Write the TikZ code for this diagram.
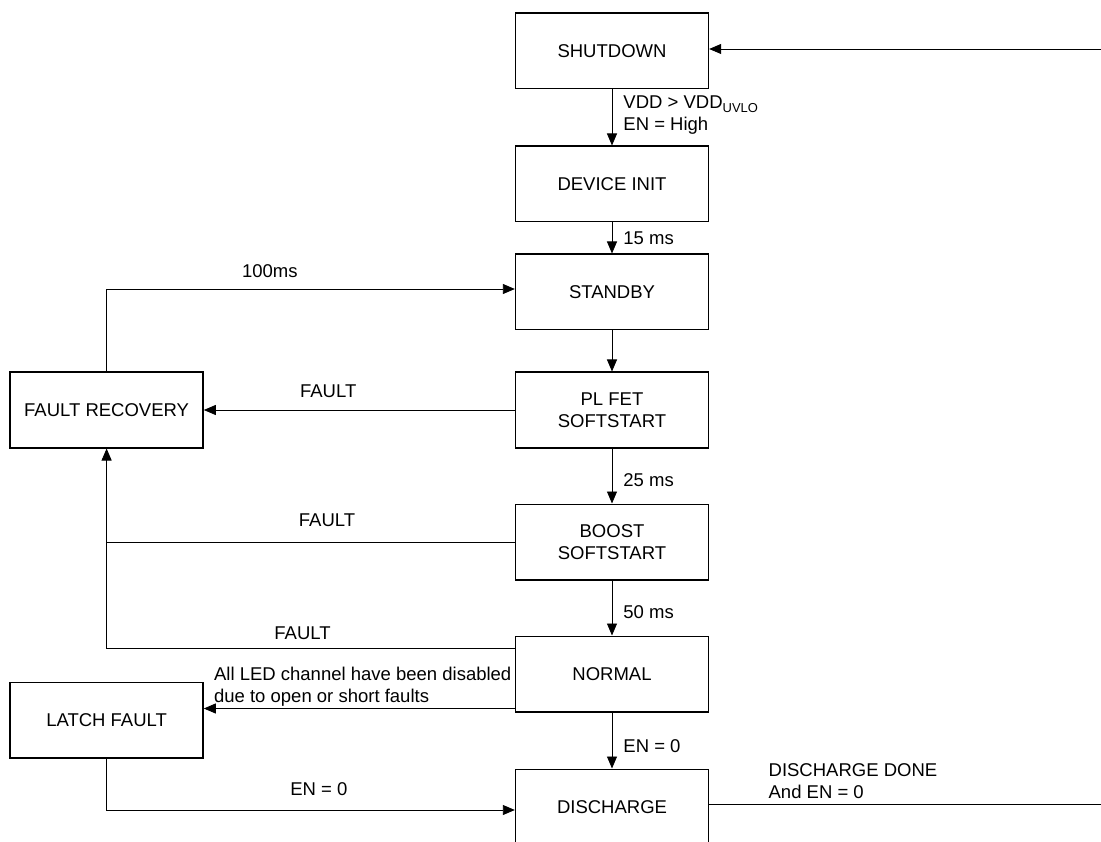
\documentclass[tikz,border=0pt]{standalone}
\usepackage{fontspec}
\setmainfont{Liberation Sans}
\usepackage{tikz}
\usetikzlibrary{shapes, arrows.meta, positioning}
\tikzstyle{block} = [rectangle, draw, line width=1.4pt, text centered, align=center,
    minimum width=193pt, minimum height=75.6pt, font=\fontsize{18.5}{22}\selectfont]
\tikzstyle{line} = [draw, line width=0.9pt, -{Triangle[length=12pt,width=10pt]}]
\tikzstyle{wire} = [draw, line width=0.9pt]
\tikzstyle{cond} = [inner sep=1pt, align=left, font=\fontsize{18.5}{22}\selectfont]

\begin{document}
\begin{tikzpicture}[x=1pt, y=-1pt, node distance = 31pt]
      \useasboundingbox (0,0) rectangle (1101,842);
      % main states
      \node [block] (shutdown) at (612,51) {SHUTDOWN};
      \node [block, below=56pt of shutdown] (device-init) {DEVICE INIT};
      \node [block, below=31pt of device-init] (standby) {STANDBY};
      \node [block, below=41pt of standby] (plfet) {PL FET\\SOFTSTART};
      \node [block, below=55pt of plfet] (boost) {BOOST\\SOFTSTART};
      \node [block, below=55pt of boost] (normal) {NORMAL};
      \node [block, below=56pt of normal] (discharge) {DISCHARGE};
      % fault states
      \node [block, left=311pt of plfet] (fault-recovery) {FAULT RECOVERY};
      \node [block, left=311pt of normal, yshift=-46pt] (latch-fault) {LATCH FAULT};
      % loop back past the right edge
      \coordinate [right=392pt of shutdown.east] (loop-top);
      % Draw edges
      \path [line] ([yshift=2pt]loop-top) -- ([yshift=2pt]shutdown.east);
      \path [line] (shutdown) -- node[cond, right=10pt, yshift=2pt] {VDD > VDD\textsubscript{UVLO}\\EN = High} (device-init);
      \path [line] (device-init) -- node[cond, right=10pt] {15 ms} (standby);
      \path [line] (standby) -- (plfet);
      \path [line] (plfet) -- node[cond, right=10pt, yshift=-4pt] {25 ms} (boost);
      \path [line] (boost) -- node[cond, right=10pt, yshift=-4pt] {50 ms} (normal);
      \path [line] (normal) -- node[cond, right=10pt, yshift=-6pt] {EN = 0} (discharge);
      \path [line] (fault-recovery.north) |- node[cond, pos=0.7, above=10pt] {100ms} ([yshift=3pt]standby.west);
      \path [line] (plfet.west) -- node[cond, pos=0.6, above=11pt] {FAULT} (fault-recovery.east);
      \path [wire] (boost.west) -- node[cond, pos=0.46, above=14pt] {FAULT} (boost.west -| fault-recovery.south);
      \path [line] ([yshift=-13pt]normal.north west) -| node[cond, pos=0.26, above=7pt] {FAULT} (fault-recovery.south);
      \path [line] ([yshift=4pt]normal.south west) -- node[cond, at start, anchor=south east, xshift=-2pt, yshift=1pt]
          {All LED channel have been disabled\\due to open or short faults} ([yshift=4pt]normal.south west -| latch-fault.east);
      \path [line] (latch-fault.south) |- node[cond, pos=0.76, above=13pt] {EN = 0} ([yshift=-3pt]discharge.west);
      \path [wire] ([yshift=3pt]discharge.east) -- node[cond, at start, anchor=south west, xshift=58pt, yshift=4pt]
          {DISCHARGE DONE\\And EN = 0} ([yshift=3pt]discharge.east -| loop-top);
\end{tikzpicture}
\end{document}
